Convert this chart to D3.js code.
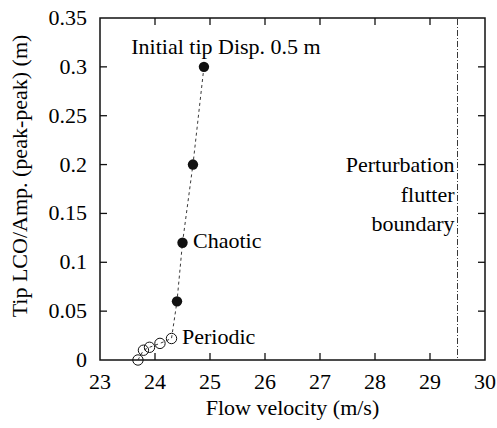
<!DOCTYPE html>
<html>
<head>
<meta charset="utf-8">
<script src="https://cdn.jsdelivr.net/npm/d3@7"></script>
</head>
<body style="margin:0">
<script>
// Flow velocity (m/s) and tip LCO amplitude (m) along the path
const periodicVelocity = [23.69, 23.79, 23.9, 24.09, 24.3];
const periodicAmplitude = [0.0, 0.01, 0.013, 0.017, 0.022];
const chaoticVelocity = [24.4, 24.5, 24.69, 24.89];
const chaoticAmplitude = [0.06, 0.12, 0.2, 0.3];
const flutterBoundary = 29.5;
const xTicks = [23, 24, 25, 26, 27, 28, 29, 30];
const yTicks = [0, 0.05, 0.1, 0.15, 0.2, 0.25, 0.3, 0.35];

const W = 497, H = 428;
const FS = 22;

const svg = d3.select("body").append("svg").attr("width", W).attr("height", H);

const x = d3.scaleLinear().domain([23, 30]).range([100, 485]);
const y = d3.scaleLinear().domain([0, 0.35]).range([360, 18]);

const [x0, x1] = x.range(), [y0, y1] = y.range();
const tick = 7;

// serif text helper
function label(parent) {
  return parent.append("text")
    .attr("font-family", "Times New Roman")
    .style("font-family", "Times New Roman")
    .attr("font-size", FS);
}

const g = svg.append("g");

// inward ticks on all four sides
xTicks.slice(1, -1).forEach(t => {
  g.append("line").attr("x1", x(t)).attr("x2", x(t)).attr("y1", y0).attr("y2", y0 - tick)
    .attr("stroke", "#111").attr("stroke-width", 1.3);
  g.append("line").attr("x1", x(t)).attr("x2", x(t)).attr("y1", y1).attr("y2", y1 + tick)
    .attr("stroke", "#111").attr("stroke-width", 1.3);
});
yTicks.slice(1, -1).forEach(t => {
  g.append("line").attr("x1", x0).attr("x2", x0 + tick).attr("y1", y(t)).attr("y2", y(t))
    .attr("stroke", "#111").attr("stroke-width", 1.3);
  g.append("line").attr("x1", x1).attr("x2", x1 - tick).attr("y1", y(t)).attr("y2", y(t))
    .attr("stroke", "#111").attr("stroke-width", 1.3);
});

// frame
g.append("rect").attr("x", x0).attr("y", y1).attr("width", x1 - x0).attr("height", y0 - y1)
  .attr("fill", "none").attr("stroke", "#111").attr("stroke-width", 1.5);

// flutter boundary (dash-dot)
svg.append("line").attr("x1", x(flutterBoundary)).attr("x2", x(flutterBoundary))
  .attr("y1", y1 + 1).attr("y2", y0 - 1)
  .attr("stroke", "#222").attr("stroke-width", 0.9).attr("stroke-dasharray", "6,2,1,2");

// dashed connecting path through all points
const allV = periodicVelocity.concat(chaoticVelocity);
const allA = periodicAmplitude.concat(chaoticAmplitude);
const line = d3.line().x(d => x(d[0])).y(d => y(d[1]));
svg.append("path").datum(allV.map((v, i) => [v, allA[i]])).attr("d", line)
  .attr("fill", "none").attr("stroke", "#222").attr("stroke-width", 0.9)
  .attr("stroke-dasharray", "3,3");

// periodic: open circles
svg.selectAll("circle.periodic").data(periodicVelocity.map((v, i) => [v, periodicAmplitude[i]]))
  .enter().append("circle").attr("class", "periodic")
  .attr("cx", d => x(d[0])).attr("cy", d => y(d[1])).attr("r", 5.2)
  .attr("fill", "none").attr("stroke", "#111").attr("stroke-width", 1);

// chaotic: filled circles
svg.selectAll("circle.chaotic").data(chaoticVelocity.map((v, i) => [v, chaoticAmplitude[i]]))
  .enter().append("circle").attr("class", "chaotic")
  .attr("cx", d => x(d[0])).attr("cy", d => y(d[1])).attr("r", 5.2)
  .attr("fill", "#111");

// tick labels
xTicks.forEach(t => {
  label(svg).attr("x", x(t)).attr("y", y0 + 29).attr("text-anchor", "middle").text(t);
});
yTicks.forEach(t => {
  label(svg).attr("x", x0 - 13).attr("y", y(t) + 7).attr("text-anchor", "end").text(t);
});

// axis titles
label(svg).attr("x", (x0 + x1) / 2).attr("y", 415).attr("text-anchor", "middle")
  .text("Flow velocity (m/s)");
label(svg).attr("transform", `translate(27,${(y0 + y1) / 2 - 13}) rotate(-90)`)
  .attr("text-anchor", "middle").text("Tip LCO/Amp. (peak-peak) (m)");

// annotations
label(svg).attr("x", 226).attr("y", 54).attr("text-anchor", "middle").text("Initial tip Disp. 0.5 m");
label(svg).attr("x", 193).attr("y", 248).text("Chaotic");
label(svg).attr("x", 182).attr("y", 344).text("Periodic");
["Perturbation", "flutter", "boundary"].forEach((s, i) => {
  label(svg).attr("x", x(flutterBoundary) - 3).attr("y", 172 + i * 29.5)
    .attr("text-anchor", "end").text(s);
});
</script>
</body>
</html>
